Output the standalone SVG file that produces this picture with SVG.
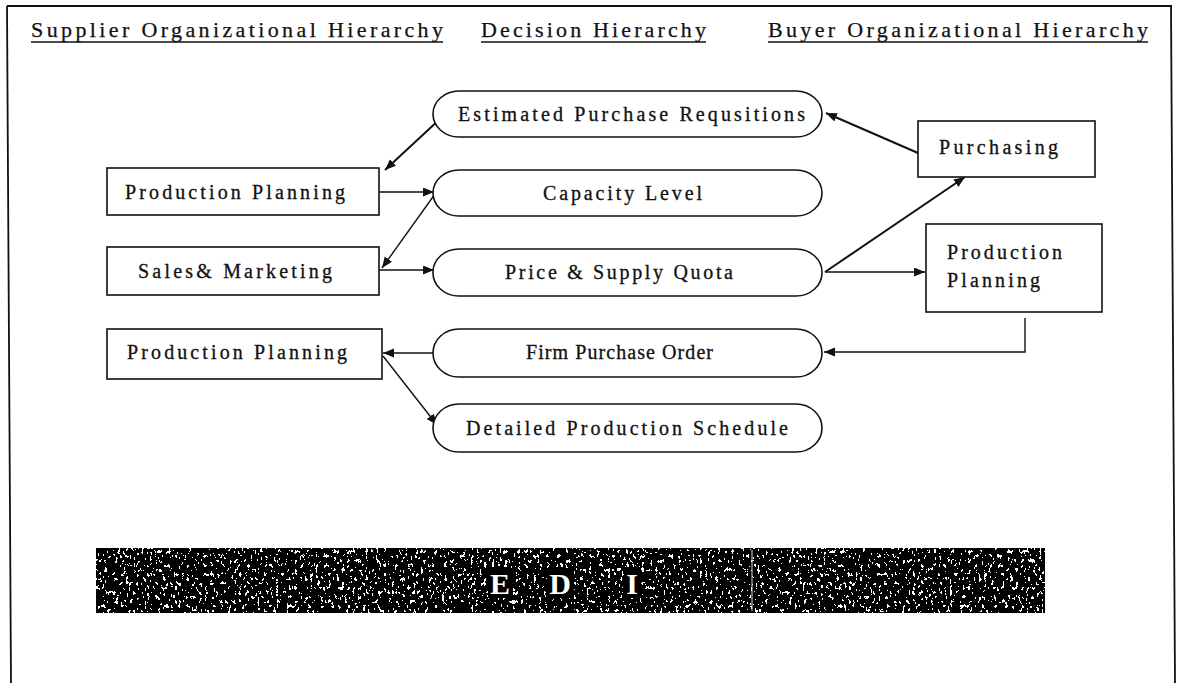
<svg xmlns="http://www.w3.org/2000/svg" width="1183" height="683" viewBox="0 0 1183 683">
  <defs>
    <style>
      .frame { stroke: #111; stroke-width: 1.8; fill: none; }
      .hdr { font-family: "Liberation Serif", "Times New Roman", serif; font-size: 22px; fill: #111; stroke: #111; stroke-width: 0.25; }
      .uline { stroke: #111; stroke-width: 1.3; }
      .box { fill: #fff; stroke: #111; stroke-width: 1.6; }
      .pill { fill: #fff; stroke: #111; stroke-width: 1.6; }
      .lbl { font-family: "Liberation Serif", "Times New Roman", serif; font-size: 20px; fill: #111; stroke: #111; stroke-width: 0.3; }
      .conn { stroke: #111; stroke-width: 1.4; fill: none; }
      .conn.heavy { stroke-width: 2; }
      .edi { font-family: "Liberation Serif", "Times New Roman", serif; font-size: 30px; font-weight: bold; fill: #fff; }
    </style>
    <marker id="arrow" markerUnits="userSpaceOnUse" markerWidth="12" markerHeight="10" refX="11" refY="4.5" orient="auto">
      <path d="M0,0 L11,4.5 L0,9 z" fill="#111"/>
    </marker>
    <!-- speckled white-on-black texture for the EDI band -->
    <filter id="grain" x="0%" y="0%" width="100%" height="100%" color-interpolation-filters="sRGB">
      <feTurbulence type="fractalNoise" baseFrequency="0.38 0.22" numOctaves="3" seed="11" result="n"/>
      <feColorMatrix in="n" type="matrix" values="1 0 0 0 0  1 0 0 0 0  1 0 0 0 0  0 0 0 0 1" result="g"/>
      <feComponentTransfer in="g" result="t">
        <feFuncR type="discrete" tableValues="0 0 0 0 0 0 0 0 0 0 0 0 0 1 1 1 1 1 1 1"/>
        <feFuncG type="discrete" tableValues="0 0 0 0 0 0 0 0 0 0 0 0 0 1 1 1 1 1 1 1"/>
        <feFuncB type="discrete" tableValues="0 0 0 0 0 0 0 0 0 0 0 0 0 1 1 1 1 1 1 1"/>
      </feComponentTransfer>
      <feComposite in="t" in2="SourceGraphic" operator="in"/>
    </filter>
  </defs>

  <rect width="1183" height="683" fill="#fff"/>

  <!-- outer frame (open at the bottom) -->
  <g id="frame">
    <line class="frame" x1="7" y1="6" x2="1172" y2="6"/>
    <line class="frame" x1="7" y1="6" x2="11" y2="683"/>
    <line class="frame" x1="1171" y1="6" x2="1175" y2="683"/>
  </g>

  <!-- column headings -->
  <g id="headers">
    <text class="hdr" x="31" y="37" textLength="412" lengthAdjust="spacing">Supplier Organizational Hierarchy</text>
    <line class="uline" x1="31" y1="42" x2="443" y2="42"/>
    <text class="hdr" x="481" y="37" textLength="225" lengthAdjust="spacing">Decision Hierarchy</text>
    <line class="uline" x1="481" y1="42" x2="706" y2="42"/>
    <text class="hdr" x="768" y="37" textLength="380" lengthAdjust="spacing">Buyer Organizational Hierarchy</text>
    <line class="uline" x1="768" y1="42" x2="1148" y2="42"/>
  </g>

  <!-- connectors -->
  <g id="connectors">
    <line class="conn heavy" x1="441" y1="118" x2="385" y2="170" marker-end="url(#arrow)"/>
    <line class="conn" x1="379" y1="192" x2="434" y2="192" marker-end="url(#arrow)"/>
    <line class="conn" x1="435" y1="194" x2="382" y2="268" marker-end="url(#arrow)"/>
    <line class="conn" x1="379" y1="270" x2="434" y2="270" marker-end="url(#arrow)"/>
    <line class="conn heavy" x1="918" y1="153" x2="826" y2="113" marker-end="url(#arrow)"/>
    <line class="conn heavy" x1="825" y1="272" x2="965" y2="177" marker-end="url(#arrow)"/>
    <line class="conn" x1="825" y1="272" x2="925" y2="272" marker-end="url(#arrow)"/>
    <polyline class="conn" points="1025,318 1025,352 824,352" marker-end="url(#arrow)"/>
    <line class="conn" x1="434" y1="353" x2="383" y2="353" marker-end="url(#arrow)"/>
    <line class="conn" x1="383" y1="356" x2="437" y2="425" marker-end="url(#arrow)"/>
  </g>

  <!-- decision hierarchy -->
  <g id="estimated-purchase-requisitions">
    <rect class="pill" x="433" y="91" width="389" height="46" rx="26" ry="23"/>
    <text class="lbl" x="458" y="121" textLength="347" lengthAdjust="spacing">Estimated Purchase Requsitions</text>
  </g>
  <g id="capacity-level">
    <rect class="pill" x="433" y="170" width="389" height="46" rx="26" ry="23"/>
    <text class="lbl" x="543" y="200" textLength="159" lengthAdjust="spacing">Capacity Level</text>
  </g>
  <g id="price-supply-quota">
    <rect class="pill" x="433" y="249" width="389" height="47" rx="26" ry="23"/>
    <text class="lbl" x="505" y="279" textLength="228" lengthAdjust="spacing">Price &amp; Supply Quota</text>
  </g>
  <g id="firm-purchase-order">
    <rect class="pill" x="433" y="329" width="389" height="48" rx="26" ry="24"/>
    <text class="lbl" x="526" y="359" textLength="187" lengthAdjust="spacing">Firm Purchase Order</text>
  </g>
  <g id="detailed-production-schedule">
    <rect class="pill" x="433" y="404" width="389" height="48" rx="26" ry="24"/>
    <text class="lbl" x="466" y="435" textLength="322" lengthAdjust="spacing">Detailed Production Schedule</text>
  </g>

  <!-- supplier organisation -->
  <g id="supplier-production-planning">
    <rect class="box" x="107" y="168" width="272" height="47"/>
    <text class="lbl" x="125" y="199" textLength="220" lengthAdjust="spacing">Production Planning</text>
  </g>
  <g id="supplier-sales-marketing">
    <rect class="box" x="107" y="247" width="272" height="48"/>
    <text class="lbl" x="138" y="278" textLength="194" lengthAdjust="spacing">Sales&amp; Marketing</text>
  </g>
  <g id="supplier-production-planning-2">
    <rect class="box" x="107" y="329" width="275" height="50"/>
    <text class="lbl" x="127" y="359" textLength="220" lengthAdjust="spacing">Production Planning</text>
  </g>

  <!-- buyer organisation -->
  <g id="buyer-purchasing">
    <rect class="box" x="918" y="121" width="177" height="56"/>
    <text class="lbl" x="939" y="154" textLength="119" lengthAdjust="spacing">Purchasing</text>
  </g>
  <g id="buyer-production-planning">
    <rect class="box" x="926" y="224" width="176" height="88"/>
    <text class="lbl" x="947" y="259" textLength="115" lengthAdjust="spacing">Production</text>
    <text class="lbl" x="947" y="287" textLength="93" lengthAdjust="spacing">Planning</text>
  </g>

  <!-- EDI band -->
  <g id="edi">
    <rect x="96" y="548" width="949" height="65" fill="#000"/>
    <rect x="96" y="548" width="949" height="65" fill="#fff" filter="url(#grain)"/>
    <line x1="752" y1="550" x2="752" y2="611" stroke="#ddd" stroke-width="1"/>
    <rect x="488" y="568" width="25" height="30" fill="#000"/>
    <rect x="547" y="568" width="27" height="30" fill="#000"/>
    <rect x="624" y="568" width="17" height="30" fill="#000"/>
    <text class="edi" x="500" y="594" text-anchor="middle">E</text>
    <text class="edi" x="560" y="594" text-anchor="middle">D</text>
    <text class="edi" x="632" y="594" text-anchor="middle">I</text>
  </g>
</svg>
